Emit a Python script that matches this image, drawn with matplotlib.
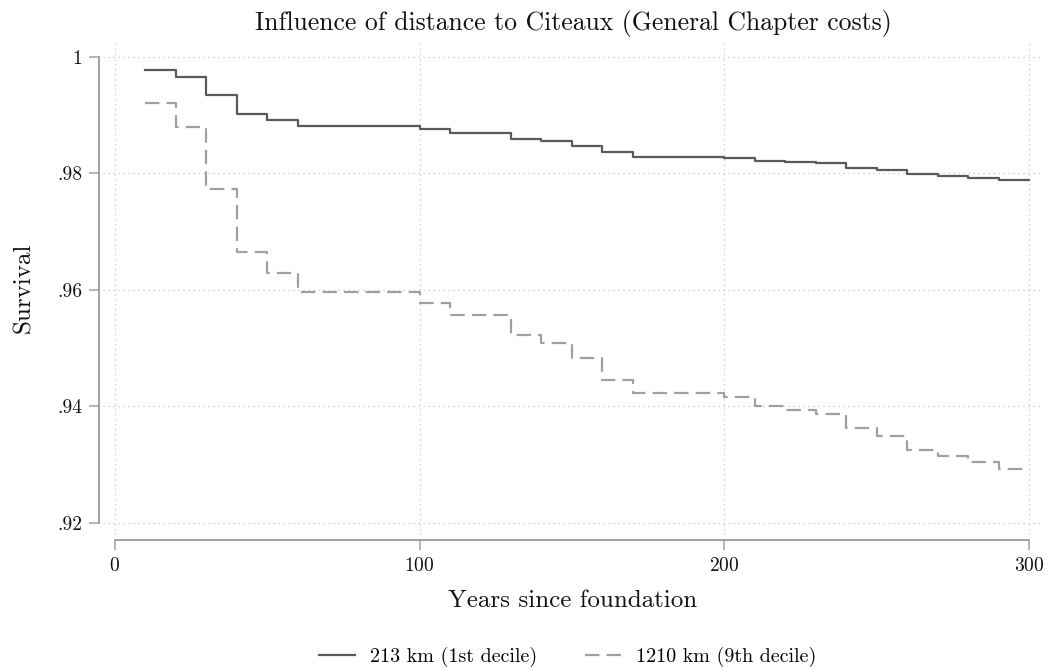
import numpy as np
import matplotlib
matplotlib.use("Agg")
import matplotlib.pyplot as plt

plt.rcParams["font.family"] = ["cmr10", "DejaVu Serif"]
plt.rcParams["axes.formatter.use_mathtext"] = True

# Kaplan-Meier style survival estimates, one step every 10 years
years = [0, 10, 20, 30, 40, 50, 60, 70, 80, 90, 100, 110, 120, 130, 140, 150,
         160, 170, 180, 190, 200, 210, 220, 230, 240, 250, 260, 270, 280, 290, 300]
surv_213km = [np.nan, 0.99777, 0.99662, 0.99342, 0.99021, 0.98918, 0.98815, 0.98815,
              0.98815, 0.98815, 0.98758, 0.98700, 0.98700, 0.98592, 0.98552, 0.98472,
              0.98364, 0.98289, 0.98289, 0.98289, 0.98266, 0.98220, 0.98192, 0.98175,
              0.98094, 0.98060, 0.97986, 0.97957, 0.97918, 0.97883, 0.97883]
surv_1210km = [np.nan, 0.99216, 0.98793, 0.97728, 0.96652, 0.96297, 0.95971, 0.95971,
               0.95971, 0.95971, 0.95771, 0.95570, 0.95570, 0.95227, 0.95095, 0.94827,
               0.94455, 0.94226, 0.94226, 0.94226, 0.94157, 0.94008, 0.93939, 0.93870,
               0.93624, 0.93492, 0.93252, 0.93149, 0.93046, 0.92921, 0.92921]

labels = ["213 km (1st decile)", "1210 km (9th decile)"]
xticks = [0, 100, 200, 300]
yticks = [0.92, 0.94, 0.96, 0.98, 1.0]
yticklabels = [".92", ".94", ".96", ".98", "1"]

W, H = 1048, 670
fig = plt.figure(figsize=(W / 100, H / 100), dpi=100)
# plot region in pixels: left 103, right 1043, top 40, bottom 535
ax = fig.add_axes([103 / W, 1 - 535 / H, (1043 - 103) / W, (535 - 40) / H])

ax.step(years, surv_213km, where="post", color="#5a5a5a", lw=1.6, label=labels[0])
ax.step(years, surv_1210km, where="post", color="#a0a0a0", lw=1.6,
        dashes=(6.5, 3.2), label=labels[1])

ax.set_xlim(-3.9, 304.6)
ax.set_ylim(0.9179, 1.0029)

ax.set_xticks(xticks)
ax.set_yticks(yticks)
ax.set_yticklabels(yticklabels)
ax.grid(True, color="#c4c4c4", linestyle=(0, (1, 3)), lw=0.9)

for s in ["top", "right"]:
    ax.spines[s].set_visible(False)
ax.spines["left"].set_position(("outward", 2.9))
ax.spines["bottom"].set_position(("outward", 3.6))
ax.spines["left"].set_bounds(0.92, 1.0)
ax.spines["bottom"].set_bounds(0, 300)
for s in ["left", "bottom"]:
    ax.spines[s].set_color("#a0a0a0")
    ax.spines[s].set_linewidth(1.4)
ax.tick_params(axis="both", direction="out", length=7, width=1.1, color="#a0a0a0",
               labelsize=14, labelcolor="#111111", pad=5)

ax.set_xlabel("Years since foundation", fontsize=18, labelpad=11, color="#111111")
ax.set_ylabel("Survival", fontsize=18, labelpad=16, color="#111111")
ax.set_title("Influence of distance to Citeaux (General Chapter costs)",
             fontsize=18.5, pad=7, color="#111111")

fig.legend(loc="center", bbox_to_anchor=(568 / W, 1 - 657 / H), ncol=2, frameon=False,
           fontsize=14.4, handlelength=1.8, columnspacing=2.4, handletextpad=0.75)

fig.savefig("out.png", dpi=100)
